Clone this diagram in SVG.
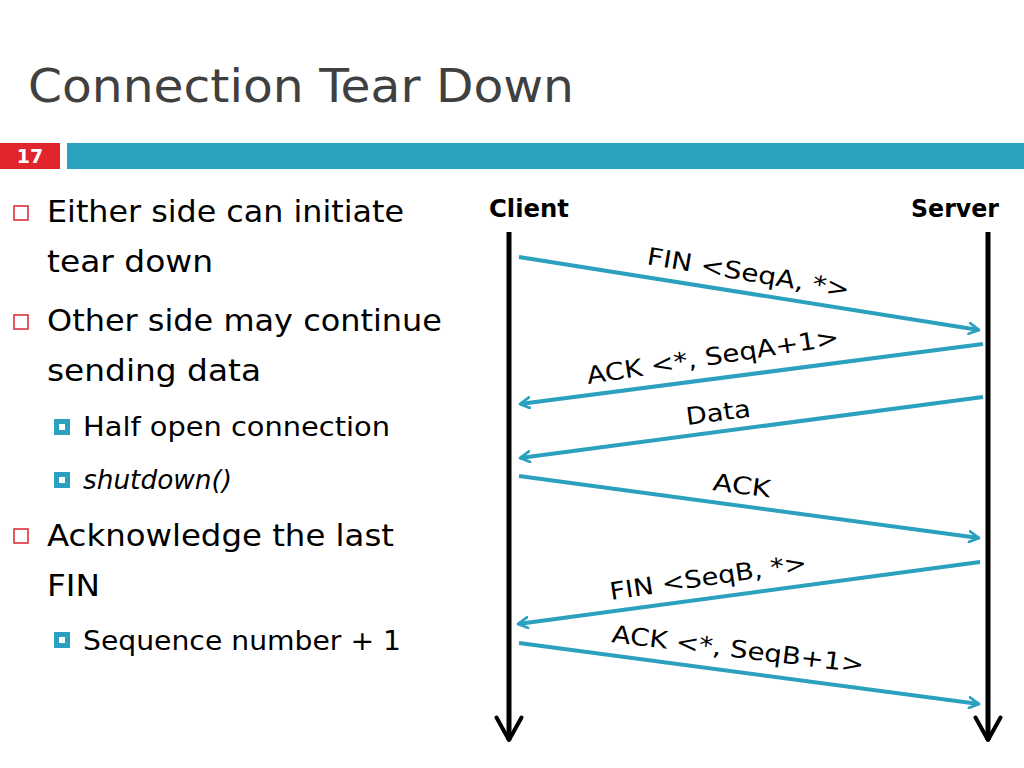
<svg xmlns="http://www.w3.org/2000/svg" width="1024" height="768" viewBox="0 0 1024 768">
<defs>
<marker id="ah" viewBox="0 0 12 12" refX="10" refY="6" markerWidth="13" markerHeight="13" markerUnits="userSpaceOnUse" orient="auto">
<path d="M1,1 L10,6 L1,11" fill="none" stroke="#2ba0bf" stroke-width="2.5" stroke-linecap="round" stroke-linejoin="round"/>
</marker>
<marker id="bh" viewBox="0 0 12 12" refX="10" refY="6" markerWidth="6" markerHeight="6" orient="auto">
<path d="M1,1 L10,6 L1,11" fill="none" stroke="#000" stroke-width="1.6" stroke-linecap="round" stroke-linejoin="round"/>
</marker>
</defs>
<style>
.t{font-family:"DejaVu Sans","Liberation Sans",sans-serif;fill:#000}
.b1{font-size:30px}
.b2{font-size:26px}
.lbl{font-size:24px}
.msg{stroke:#2ba0bf;stroke-width:4;fill:none;marker-end:url(#ah)}
.life{stroke:#000;stroke-width:5;fill:none;marker-end:url(#bh)}
.hb{fill:none;stroke:#d9262c;stroke-width:1.5}
.sb{fill:#2ba0bf}
</style>
<rect width="1024" height="768" fill="#fff"/>
<g id="title">
<text x="28" y="102" class="t" style="font-size:46px;fill:#404040" textLength="546" lengthAdjust="spacingAndGlyphs">Connection Tear Down</text>
</g>
<g id="header-bar">
<rect x="0" y="143" width="60" height="26" fill="#e0262c"/>
<text x="30" y="163" class="t" style="font-size:19px;font-weight:bold;fill:#fff" text-anchor="middle">17</text>
<rect x="67" y="143" width="957" height="26" fill="#2ba0bf"/>
</g>
<g id="bullets">
<rect x="14" y="206" width="14" height="14" class="hb"/>
<text x="47" y="222" class="t b1" textLength="357" lengthAdjust="spacingAndGlyphs">Either side can initiate</text>
<text x="47" y="272" class="t b1" textLength="166" lengthAdjust="spacingAndGlyphs">tear down</text>
<rect x="14" y="315" width="14" height="14" class="hb"/>
<text x="47" y="331" class="t b1" textLength="395" lengthAdjust="spacingAndGlyphs">Other side may continue</text>
<text x="47" y="381" class="t b1" textLength="214" lengthAdjust="spacingAndGlyphs">sending data</text>
<rect x="54" y="419" width="16" height="16" class="sb"/><rect x="59" y="424" width="6" height="6" fill="#fff"/>
<text x="83" y="436" class="t b2" textLength="307" lengthAdjust="spacingAndGlyphs">Half open connection</text>
<rect x="54" y="472" width="16" height="16" class="sb"/><rect x="59" y="477" width="6" height="6" fill="#fff"/>
<text x="83" y="489" class="t b2" style="font-style:italic" textLength="149" lengthAdjust="spacingAndGlyphs">shutdown()</text>
<rect x="14" y="529" width="14" height="14" class="hb"/>
<text x="47" y="546" class="t b1" textLength="347" lengthAdjust="spacingAndGlyphs">Acknowledge the last</text>
<text x="47" y="596" class="t b1" textLength="53" lengthAdjust="spacingAndGlyphs">FIN</text>
<rect x="54" y="632" width="16" height="16" class="sb"/><rect x="59" y="637" width="6" height="6" fill="#fff"/>
<text x="83" y="650" class="t b2" textLength="318" lengthAdjust="spacingAndGlyphs">Sequence number + 1</text>
</g>
<g id="client">
<text x="529" y="217" class="t" style="font-size:25px;font-weight:bold" text-anchor="middle" textLength="80" lengthAdjust="spacingAndGlyphs">Client</text>
</g>
<g id="server">
<text x="955" y="217" class="t" style="font-size:25px;font-weight:bold" text-anchor="middle" textLength="88" lengthAdjust="spacingAndGlyphs">Server</text>
</g>
<g id="connectors">
<line x1="509" y1="232" x2="509" y2="740" class="life"/>
<line x1="988" y1="232" x2="988" y2="740" class="life"/>
<line x1="519" y1="257" x2="979" y2="330" class="msg"/>
<line x1="983" y1="344" x2="520" y2="404" class="msg"/>
<line x1="983" y1="397" x2="520" y2="458" class="msg"/>
<line x1="519" y1="476" x2="979" y2="538" class="msg"/>
<line x1="980" y1="562" x2="518" y2="624" class="msg"/>
<line x1="519" y1="643" x2="979" y2="704" class="msg"/>
</g>
<g id="labels">
<text class="t lbl" transform="translate(646,264) rotate(9.5)" textLength="205" lengthAdjust="spacingAndGlyphs">FIN &lt;SeqA, *&gt;</text>
<text class="t lbl" transform="translate(588,384) rotate(-8.8)" textLength="255" lengthAdjust="spacingAndGlyphs">ACK &lt;*, SeqA+1&gt;</text>
<text class="t lbl" transform="translate(687,425) rotate(-7.5)" textLength="65" lengthAdjust="spacingAndGlyphs">Data</text>
<text class="t lbl" transform="translate(712,490) rotate(7.5)" textLength="58" lengthAdjust="spacingAndGlyphs">ACK</text>
<text class="t lbl" transform="translate(611,600) rotate(-8.5)" textLength="199" lengthAdjust="spacingAndGlyphs">FIN &lt;SeqB, *&gt;</text>
<text class="t lbl" transform="translate(611,642) rotate(7)" textLength="254" lengthAdjust="spacingAndGlyphs">ACK &lt;*, SeqB+1&gt;</text>
</g>
</svg>
